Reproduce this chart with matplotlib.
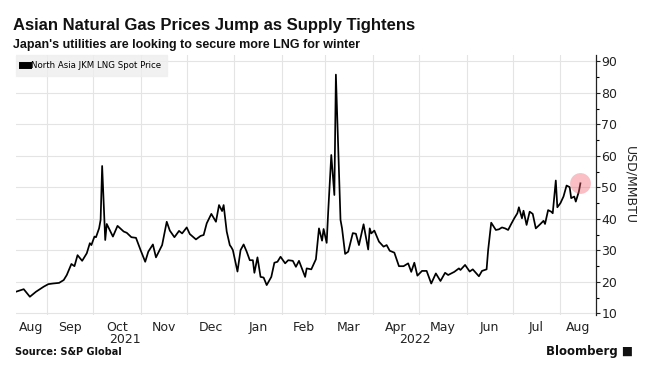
import pandas as pd
import matplotlib.pyplot as plt
import matplotlib.dates as mdates
from matplotlib.ticker import MultipleLocator, NullFormatter

plt.rcParams['font.family'] = ['DejaVu Sans']

# data (USD/MMBTU)
dates = [
    "2021-08-12", "2021-08-17", "2021-08-21", "2021-08-25", "2021-08-30",
    "2021-09-02", "2021-09-05", "2021-09-09", "2021-09-12", "2021-09-14", "2021-09-17", "2021-09-19",
    "2021-09-21", "2021-09-24", "2021-09-27", "2021-09-29", "2021-09-30",
    "2021-10-02", "2021-10-03", "2021-10-05", "2021-10-06", "2021-10-07", "2021-10-09", "2021-10-10",
    "2021-10-14", "2021-10-17", "2021-10-21", "2021-10-23", "2021-10-26", "2021-10-29",
    "2021-11-01", "2021-11-04", "2021-11-06", "2021-11-09", "2021-11-11", "2021-11-15", "2021-11-18",
    "2021-11-20", "2021-11-23", "2021-11-26", "2021-11-28",
    "2021-12-01", "2021-12-03", "2021-12-07", "2021-12-10", "2021-12-12", "2021-12-14", "2021-12-17",
    "2021-12-20", "2021-12-22", "2021-12-24", "2021-12-25", "2021-12-27", "2021-12-29", "2021-12-30",
    "2021-12-31",
    "2022-01-03", "2022-01-05", "2022-01-07", "2022-01-09", "2022-01-11", "2022-01-13", "2022-01-14",
    "2022-01-16", "2022-01-18", "2022-01-20", "2022-01-22", "2022-01-25", "2022-01-27", "2022-01-29",
    "2022-01-31",
    "2022-02-03", "2022-02-05", "2022-02-08", "2022-02-10", "2022-02-12", "2022-02-16", "2022-02-17",
    "2022-02-20", "2022-02-23", "2022-02-25", "2022-02-27", "2022-02-28",
    "2022-03-02", "2022-03-03", "2022-03-05", "2022-03-07", "2022-03-08", "2022-03-11", "2022-03-12",
    "2022-03-14", "2022-03-16", "2022-03-19", "2022-03-21", "2022-03-23", "2022-03-26", "2022-03-29",
    "2022-03-30", "2022-03-31",
    "2022-04-02", "2022-04-05", "2022-04-08", "2022-04-10", "2022-04-12", "2022-04-15", "2022-04-18",
    "2022-04-21", "2022-04-24", "2022-04-26", "2022-04-28", "2022-04-30",
    "2022-05-03", "2022-05-06", "2022-05-09", "2022-05-12", "2022-05-15", "2022-05-18", "2022-05-20",
    "2022-05-24", "2022-05-27", "2022-05-28", "2022-05-31",
    "2022-06-03", "2022-06-05", "2022-06-09", "2022-06-11", "2022-06-14", "2022-06-15", "2022-06-17",
    "2022-06-20", "2022-06-22", "2022-06-24", "2022-06-26", "2022-06-28", "2022-06-30",
    "2022-07-02", "2022-07-04", "2022-07-05", "2022-07-07", "2022-07-08", "2022-07-10", "2022-07-12",
    "2022-07-14", "2022-07-16", "2022-07-19", "2022-07-21", "2022-07-22", "2022-07-24", "2022-07-26",
    "2022-07-27", "2022-07-29", "2022-07-30",
    "2022-08-01", "2022-08-03", "2022-08-05", "2022-08-07", "2022-08-08", "2022-08-10", "2022-08-11",
    "2022-08-13", "2022-08-14",
]
prices = [
    16.9, 17.7, 15.3, 16.9, 18.5,
    19.3, 19.5, 19.7, 20.6, 22.2, 25.7, 25.0,
    28.5, 26.7, 29.1, 32.3, 31.7,
    34.4, 34.2, 37.0, 39.7, 56.8, 33.3, 38.4,
    34.4, 37.8, 36.0, 35.6, 34.2, 34.0,
    30.1, 26.4, 29.6, 31.9, 27.8, 31.7, 39.1,
    36.3, 34.2, 36.2, 35.4,
    37.3, 35.2, 33.5, 34.6, 34.9, 38.6, 41.6,
    39.1, 44.4, 42.5, 44.4, 36.0, 31.7, 31.0,
    30.1,
    23.3, 30.1, 31.9, 29.6, 26.9, 26.9, 22.9,
    27.8, 21.6, 21.4, 19.0, 21.6, 26.1, 26.4,
    28.0,
    25.9, 26.9, 26.7, 24.8, 26.7, 21.6, 24.3,
    24.0, 27.2, 37.0, 33.1, 36.8,
    32.4, 42.3, 60.3, 47.6, 85.8, 39.7, 37.0,
    28.9, 29.6, 35.5, 35.3, 31.7, 38.3, 30.3,
    37.0, 35.4,
    36.3, 32.8, 31.2, 31.7, 29.9, 29.3, 25.0,
    25.0, 25.9, 23.2, 26.1, 22.0,
    23.5, 23.5, 19.5, 22.7, 20.3, 22.9, 22.2,
    23.2, 24.3, 23.8, 25.4,
    23.3, 24.0, 21.8, 23.5, 24.0, 30.1, 38.8,
    36.5, 36.7, 37.3, 37.0, 36.5, 38.4,
    40.2, 41.8, 43.7, 40.2, 42.6, 38.1, 42.3,
    41.6, 37.0, 38.4, 39.4, 38.4, 42.8, 42.3,
    41.8, 52.2, 43.7,
    45.0, 47.1, 50.6, 50.1, 46.6, 47.1, 45.5,
    48.7, 51.3,
]
series_name = "North Asia JKM LNG Spot Price"

x = pd.to_datetime(dates)
x_start = pd.Timestamp("2021-08-12")
x_end = pd.Timestamp("2022-08-24")

fig = plt.figure(figsize=(6.49, 3.80), dpi=100)
ax = fig.add_axes([0.0247, 0.171, 0.8933, 0.684])

ax.plot(x, prices, color="black", lw=1.25, label=series_name, zorder=3)
ax.plot(x[-1], prices[-1], "o", ms=15, color="#f0606e", alpha=0.4,
        markeredgewidth=0, zorder=4)

ax.set_xlim(x_start, x_end)
ax.set_ylim(9.5, 92)

# right-hand y axis
ax.yaxis.tick_right()
ax.yaxis.set_label_position("right")
ax.yaxis.set_major_locator(MultipleLocator(10))
ax.yaxis.set_minor_locator(MultipleLocator(5))
ax.tick_params(axis="y", which="major", direction="out", length=3, width=0.8,
               labelsize=9, pad=1, colors="#222222")
ax.tick_params(axis="y", which="minor", direction="out", length=2, width=0.8)
ax.set_ylabel("USD/MMBTU", rotation=270, labelpad=14, fontsize=9, color="#222222")

for s in ["left", "top", "bottom"]:
    ax.spines[s].set_visible(False)
ax.spines["right"].set_color("#222222")
ax.spines["right"].set_linewidth(0.9)

# month gridlines at month starts, labels centred in each month
ax.xaxis.set_major_locator(mdates.MonthLocator())
ax.xaxis.set_major_formatter(NullFormatter())
ax.tick_params(axis="x", which="major", length=0)
months = pd.date_range("2021-08-01", "2022-09-01", freq="MS")
centers, names = [], []
for a, b in zip(months[:-1], months[1:]):
    lo, hi = max(a, x_start), min(b, x_end)
    centers.append(mdates.date2num(lo) + (mdates.date2num(hi) - mdates.date2num(lo)) / 2)
    names.append(a.strftime("%b"))
ax.set_xticks(centers, minor=True)
ax.set_xticklabels(names, minor=True)
ax.tick_params(axis="x", which="minor", length=0, labelsize=9, pad=4, colors="#222222")

for yr, a, b in [("2021", x_start, pd.Timestamp("2022-01-01")),
                 ("2022", pd.Timestamp("2022-01-01"), x_end)]:
    mid = mdates.date2num(a) + (mdates.date2num(b) - mdates.date2num(a)) / 2
    ax.text(mid, -0.093, yr, transform=ax.get_xaxis_transform(), ha="center",
            va="center", fontsize=9, color="#222222")

ax.grid(True, which="major", color="#e4e4e4", lw=0.8, zorder=0)

leg = ax.legend(loc="upper left", bbox_to_anchor=(0.0, 1.0), frameon=True,
                fontsize=6.2, handlelength=0.7, handletextpad=0.3,
                borderpad=0.7, borderaxespad=0.0, fancybox=False)
leg.get_frame().set_facecolor("#eeeeee")
leg.get_frame().set_edgecolor("#eeeeee")
for h in leg.legend_handles:
    h.set_linewidth(5)

fig.text(0.02, 0.92, "Asian Natural Gas Prices Jump as Supply Tightens",
         fontsize=12, fontweight="bold", color="#111111", family="Liberation Sans")
fig.text(0.02, 0.873, "Japan's utilities are looking to secure more LNG for winter",
         fontsize=9, fontweight="bold", color="#111111", family="Liberation Sans")
fig.text(0.023, 0.065, "Source: S&P Global", fontsize=7, fontweight="bold", color="#111111")
fig.text(0.975, 0.065, "Bloomberg \u25A0", fontsize=8.5, fontweight="bold",
         color="#111111", ha="right")

fig.savefig("out.png", dpi=100)
